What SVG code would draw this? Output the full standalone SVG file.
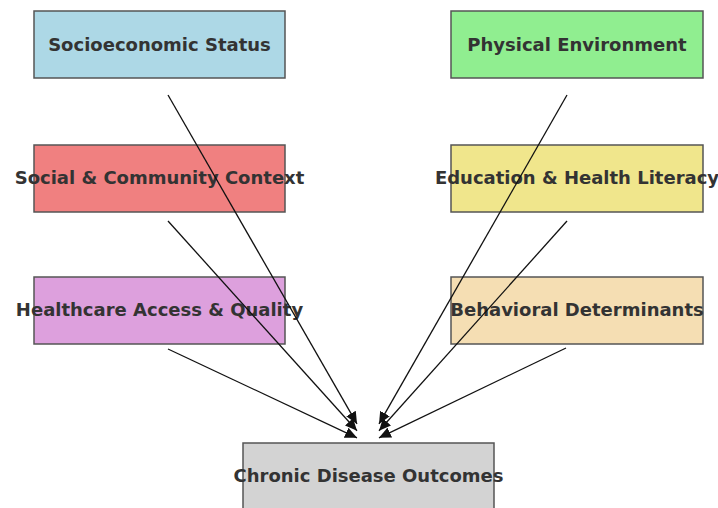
<svg xmlns="http://www.w3.org/2000/svg" width="718" height="508" viewBox="0 0 718 508">
  <style>
    .box { stroke: #555; stroke-width: 1.5; }
    .lbl { font-family: "DejaVu Sans", sans-serif; font-weight: bold; font-size: 18px; fill: #333; text-anchor: middle; }
    .arrow { stroke: #111; stroke-width: 1.3; fill: none; marker-end: url(#head); }
  </style>
  <defs>
    <marker id="head" markerUnits="userSpaceOnUse" markerWidth="13" markerHeight="12" refX="12" refY="6" orient="auto">
      <path d="M0,0.5 L12,6 L0,11.5 z" fill="#111"/>
    </marker>
  </defs>
  <rect width="718" height="508" fill="#fff"/>

  <g id="socioeconomic">
    <rect class="box" x="34" y="11" width="251" height="67" fill="#add8e6"/>
    <text class="lbl" x="159.5" y="50.5">Socioeconomic Status</text>
  </g>
  <g id="physical">
    <rect class="box" x="451" y="11" width="252" height="67" fill="#90ee90"/>
    <text class="lbl" x="577" y="50.5">Physical Environment</text>
  </g>
  <g id="social">
    <rect class="box" x="34" y="145" width="251" height="67" fill="#f08080"/>
    <text class="lbl" x="159.5" y="184.3">Social &amp; Community Context</text>
  </g>
  <g id="education">
    <rect class="box" x="451" y="145" width="252" height="67" fill="#f0e68c"/>
    <text class="lbl" x="577" y="184.3">Education &amp; Health Literacy</text>
  </g>
  <g id="healthcare">
    <rect class="box" x="34" y="277" width="251" height="67" fill="#dda0dd"/>
    <text class="lbl" x="159.5" y="316.3">Healthcare Access &amp; Quality</text>
  </g>
  <g id="behavioral">
    <rect class="box" x="451" y="277" width="252" height="67" fill="#f5deb3"/>
    <text class="lbl" x="577" y="316.3">Behavioral Determinants</text>
  </g>
  <g id="outcomes">
    <rect class="box" x="243" y="443" width="251" height="70" fill="#d3d3d3"/>
    <text class="lbl" x="368.5" y="482.3">Chronic Disease Outcomes</text>
  </g>

  <g id="connectors">
    <line class="arrow" x1="168" y1="95" x2="357" y2="423.9"/>
    <line class="arrow" x1="168" y1="221" x2="357" y2="430.8"/>
    <line class="arrow" x1="168" y1="349" x2="357" y2="437.8"/>
    <line class="arrow" x1="567" y1="95" x2="379" y2="423.9"/>
    <line class="arrow" x1="567" y1="221" x2="379" y2="430.8"/>
    <line class="arrow" x1="566" y1="348" x2="379" y2="437.8"/>
  </g>
</svg>
